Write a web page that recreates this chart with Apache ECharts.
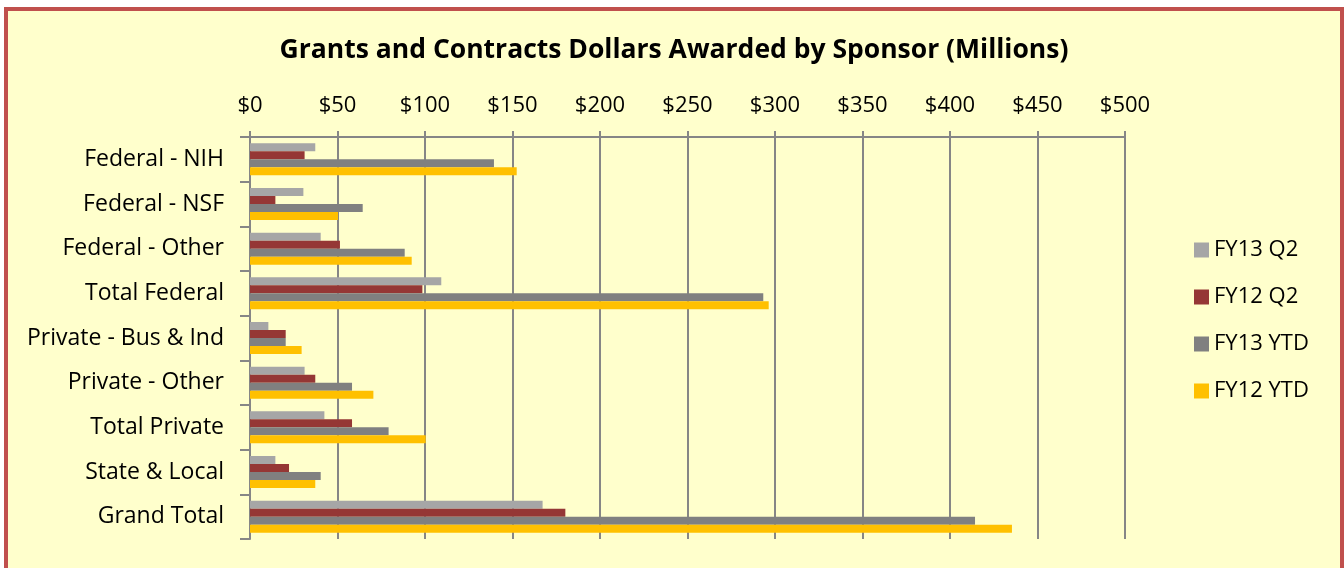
<!DOCTYPE html>
<html>
<head>
    <meta charset="utf-8">
    <title>Grants and Contracts Dollars Awarded by Sponsor</title>
    <script src="https://cdn.jsdelivr.net/npm/echarts@6/dist/echarts.min.js"></script>
    <style>
        html, body {
            margin: 0;
            padding: 0;
            background-color: #fff;
        }
        #frame {
            position: absolute;
            left: 4px;
            top: 7px;
            width: 1332px;
            height: 557px;
            border: 4px solid #c0504d;
            background-color: #ffffcc;
        }
        #chart {
            width: 1332px;
            height: 557px;
        }
    </style>
</head>
<body>
    <div id="frame"><div id="chart"></div></div>
<script type="text/javascript">
    var categories = ['Federal - NIH', 'Federal - NSF', 'Federal - Other', 'Total Federal',
        'Private - Bus & Ind', 'Private - Other', 'Total Private', 'State & Local', 'Grand Total'];
    var seriesNames = ['FY13 Q2', 'FY12 Q2', 'FY13 YTD', 'FY12 YTD'];
    var fy13q2 = [37.3, 30.5, 40.4, 109.3, 10.5, 31.2, 42.5, 14.5, 167.2];
    var fy12q2 = [31.2, 14.5, 51.4, 98.5, 20.4, 37.3, 58.3, 22.3, 180.2];
    var fy13ytd = [139.4, 64.4, 88.4, 293.3, 20.4, 58.3, 79.2, 40.4, 414.3];
    var fy12ytd = [152.4, 50.3, 92.4, 296.4, 29.5, 70.5, 100.4, 37.3, 435.4];
    var colors = ['#a6a6a6', '#953735', '#808080', '#ffc000'];

    var font = '"Open Sans", "Noto Sans", sans-serif';
    var values = [fy13q2, fy12q2, fy13ytd, fy12ytd];

    var series = [];
    for (var i = 0; i < seriesNames.length; i++) {
        series.push({
            name: seriesNames[i],
            type: 'bar',
            data: values[i],
            barWidth: 8,
            barGap: '0%',
            itemStyle: { color: colors[i] }
        });
    }

    var myChart = echarts.init(document.getElementById('chart'));
    var option = {
        animation: false,
        title: {
            text: 'Grants and Contracts Dollars Awarded by Sponsor (Millions)',
            left: 'center',
            top: 21,
            textStyle: {
                fontFamily: font,
                fontSize: 26.5,
                fontWeight: 'bold',
                color: '#000'
            }
        },
        legend: {
            orient: 'vertical',
            left: 1181,
            top: 223,
            itemWidth: 15,
            itemHeight: 15,
            itemGap: 25,
            icon: 'rect',
            textStyle: {
                fontFamily: font,
                fontSize: 22,
                color: '#000'
            },
            data: seriesNames
        },
        grid: {
            left: 242,
            top: 126,
            width: 875,
            height: 402
        },
        xAxis: {
            type: 'value',
            position: 'top',
            min: 0,
            max: 500,
            interval: 50,
            axisLine: { show: true, lineStyle: { color: '#868686', width: 2 } },
            axisTick: { show: true, length: 6, lineStyle: { color: '#868686', width: 2 } },
            splitLine: { show: true, lineStyle: { color: '#868686', width: 2 } },
            axisLabel: {
                margin: 20,
                fontFamily: font,
                fontSize: 22,
                color: '#000',
                formatter: function (v) { return '$' + v; }
            }
        },
        yAxis: {
            type: 'category',
            inverse: true,
            data: categories,
            axisLine: { show: true, lineStyle: { color: '#868686', width: 2 } },
            axisTick: { show: true, length: 10, lineStyle: { color: '#868686', width: 2 } },
            axisLabel: {
                margin: 26,
                fontFamily: font,
                fontSize: 23,
                color: '#000'
            }
        },
        series: series
    };
    myChart.setOption(option);
</script>
</body>
</html>
